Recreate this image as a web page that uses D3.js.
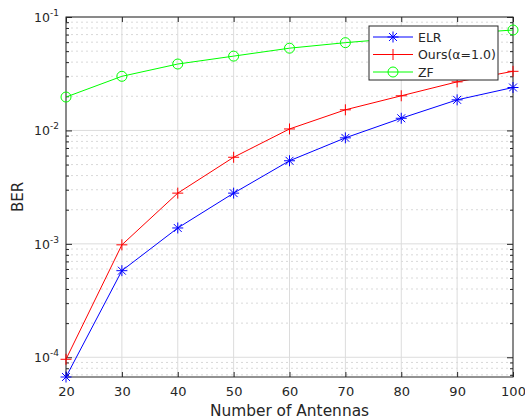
<!DOCTYPE html>
<html>
<head>
<meta charset="utf-8">
<script src="https://cdn.jsdelivr.net/npm/d3@7"></script>
<style>
  body { margin: 0; background: #fff; }
  text { font-family: "DejaVu Sans", sans-serif; fill: #262626; }
</style>
</head>
<body>
<div class="chart"></div>
<script>
// antennas on x axis
var antennas = [20, 30, 40, 50, 60, 70, 80, 90, 100];
var elr  = [6.7e-5, 5.8e-4, 1.38e-3, 2.8e-3, 5.4e-3, 8.6e-3, 0.0128, 0.0186, 0.0239];
var ours = [9.6e-5, 9.8e-4, 2.8e-3, 5.8e-3, 0.0103, 0.0152, 0.0202, 0.0268, 0.0332];
var zf   = [0.0197, 0.0300, 0.0385, 0.0452, 0.0531, 0.0594, 0.0652, 0.0710, 0.0768];
var yTicks = [1e-4, 1e-3, 1e-2, 1e-1];
var yExps = ["-4", "-3", "-2", "-1"];

var series = [
    {name: "ELR", values: elr, color: "#0000ff", marker: "star"},
    {name: "Ours(\u03b1=1.0)", values: ours, color: "#ff0000", marker: "plus"},
    {name: "ZF", values: zf, color: "#00ff00", marker: "circle"}
];

var margin = {top: 17, right: 12, bottom: 43, left: 66},
    width = 525 - margin.left - margin.right,
    height = 420 - margin.top - margin.bottom;

var svg = d3.select(".chart")
    .append("svg")
    .attr("width", 525)
    .attr("height", 420)
    .append("g")
    .attr("transform", "translate(" + margin.left + "," + margin.top + ")");

var x = d3.scaleLinear().domain([20, 100]).range([0, width]);
var y = d3.scaleLog().domain([6.7e-5, 0.1]).range([height, 0]);

// minor values for log grid
var minor = [];
[1e-5, 1e-4, 1e-3, 1e-2].forEach(function (b) {
    for (var k = 2; k <= 9; k++) {
        var v = b * k;
        if (v >= y.domain()[0] && v <= 0.1) minor.push(v);
    }
});

// grid
svg.append("g").selectAll("line").data(minor).enter().append("line")
    .attr("x1", 0).attr("x2", width)
    .attr("y1", function (d) { return y(d); }).attr("y2", function (d) { return y(d); })
    .attr("stroke", "#cfcfcf").attr("stroke-width", 0.8).attr("stroke-dasharray", "2,3");
svg.append("g").selectAll("line").data(yTicks).enter().append("line")
    .attr("x1", 0).attr("x2", width)
    .attr("y1", function (d) { return y(d); }).attr("y2", function (d) { return y(d); })
    .attr("stroke", "#dcdcdc").attr("stroke-width", 1);
svg.append("g").selectAll("line").data(antennas).enter().append("line")
    .attr("x1", function (d) { return x(d); }).attr("x2", function (d) { return x(d); })
    .attr("y1", 0).attr("y2", height)
    .attr("stroke", "#dcdcdc").attr("stroke-width", 1);

// axes with inward ticks
var tickCol = "#262626";
svg.append("g")
    .attr("transform", "translate(0," + height + ")")
    .call(d3.axisBottom(x).tickValues(antennas).tickSize(-5).tickPadding(10))
    .call(function (g) {
        g.select(".domain").remove();
        g.selectAll("line").attr("stroke", tickCol);
        g.selectAll("text").attr("font-size", "13px").attr("fill", "#3a3a3a");
    });
svg.append("g")
    .call(d3.axisTop(x).tickValues(antennas).tickSize(-5).tickFormat(""))
    .call(function (g) {
        g.select(".domain").remove();
        g.selectAll("line").attr("stroke", tickCol);
    });
svg.append("g")
    .call(d3.axisLeft(y).tickValues(yTicks).tickSize(-6).tickFormat(""))
    .call(function (g) { g.select(".domain").remove(); g.selectAll("line").attr("stroke", tickCol); });
svg.append("g")
    .attr("transform", "translate(" + width + ",0)")
    .call(d3.axisRight(y).tickValues(yTicks).tickSize(-6).tickFormat(""))
    .call(function (g) { g.select(".domain").remove(); g.selectAll("line").attr("stroke", tickCol); });
svg.append("g")
    .call(d3.axisLeft(y).tickValues(minor).tickSize(-3).tickFormat(""))
    .call(function (g) { g.select(".domain").remove(); g.selectAll("line").attr("stroke", tickCol); });
svg.append("g")
    .attr("transform", "translate(" + width + ",0)")
    .call(d3.axisRight(y).tickValues(minor).tickSize(-3).tickFormat(""))
    .call(function (g) { g.select(".domain").remove(); g.selectAll("line").attr("stroke", tickCol); });

// y tick labels 10^n
var ylab = svg.append("g").selectAll("text").data(yTicks).enter().append("text")
    .attr("x", -7)
    .attr("y", function (d) { return y(d) + 5; })
    .attr("text-anchor", "end")
    .attr("font-size", "12.5px")
    .attr("fill", "#3a3a3a");
ylab.append("tspan").text("10");
ylab.append("tspan").attr("dy", -6).attr("font-size", "9px")
    .text(function (d, i) { return yExps[i]; });

// box
svg.append("rect")
    .attr("width", width).attr("height", height)
    .attr("fill", "none").attr("stroke", "#262626").attr("stroke-width", 1);

// markers
function drawMarker(g, type, color, cx, cy) {
    if (type === "circle") {
        g.append("circle").attr("cx", cx).attr("cy", cy).attr("r", 5)
            .attr("fill", "none").attr("stroke", color).attr("stroke-width", 1);
    } else {
        var s = 5.5;
        var segs = [[-s, 0, s, 0], [0, -s, 0, s]];
        if (type === "star") {
            var d = s * 0.72;
            segs.push([-d, -d, d, d], [-d, d, d, -d]);
        }
        segs.forEach(function (p) {
            g.append("line")
                .attr("x1", cx + p[0]).attr("y1", cy + p[1])
                .attr("x2", cx + p[2]).attr("y2", cy + p[3])
                .attr("stroke", color).attr("stroke-width", 1);
        });
    }
}

var line = d3.line()
    .x(function (d) { return x(d[0]); })
    .y(function (d) { return y(d[1]); });

var plot = svg.append("g");
series.forEach(function (s) {
    var pts = antennas.map(function (a, i) { return [a, s.values[i]]; });
    plot.append("path")
        .datum(pts)
        .attr("d", line)
        .attr("fill", "none")
        .attr("stroke", s.color)
        .attr("stroke-width", 1);
    var mg = plot.append("g");
    pts.forEach(function (p) { drawMarker(mg, s.marker, s.color, x(p[0]), y(p[1])); });
});

// legend
var lx = 369 - margin.left, ly = 26 - margin.top;
var legend = svg.append("g").attr("transform", "translate(" + lx + "," + ly + ")");
legend.append("rect")
    .attr("width", 129).attr("height", 54)
    .attr("fill", "#fff").attr("stroke", "#262626").attr("stroke-width", 1);
series.forEach(function (s, i) {
    var yy = 11 + i * 17.5;
    legend.append("line")
        .attr("x1", 4).attr("x2", 44).attr("y1", yy).attr("y2", yy)
        .attr("stroke", s.color).attr("stroke-width", 1);
    drawMarker(legend, s.marker, s.color, 24, yy);
    legend.append("text")
        .attr("x", 49).attr("y", yy + 4.5)
        .attr("font-size", "12.5px")
        .text(s.name);
});

// axis labels
svg.append("text")
    .attr("x", width / 2).attr("y", height + 39)
    .attr("text-anchor", "middle")
    .attr("font-size", "15.4px")
    .attr("fill", "#3a3a3a")
    .text("Number of Antennas");
svg.append("text")
    .attr("transform", "translate(" + (-43) + "," + (height / 2) + ") rotate(-90)")
    .attr("text-anchor", "middle")
    .attr("font-size", "15px")
    .attr("fill", "#3a3a3a")
    .text("BER");
</script>
</body>
</html>
